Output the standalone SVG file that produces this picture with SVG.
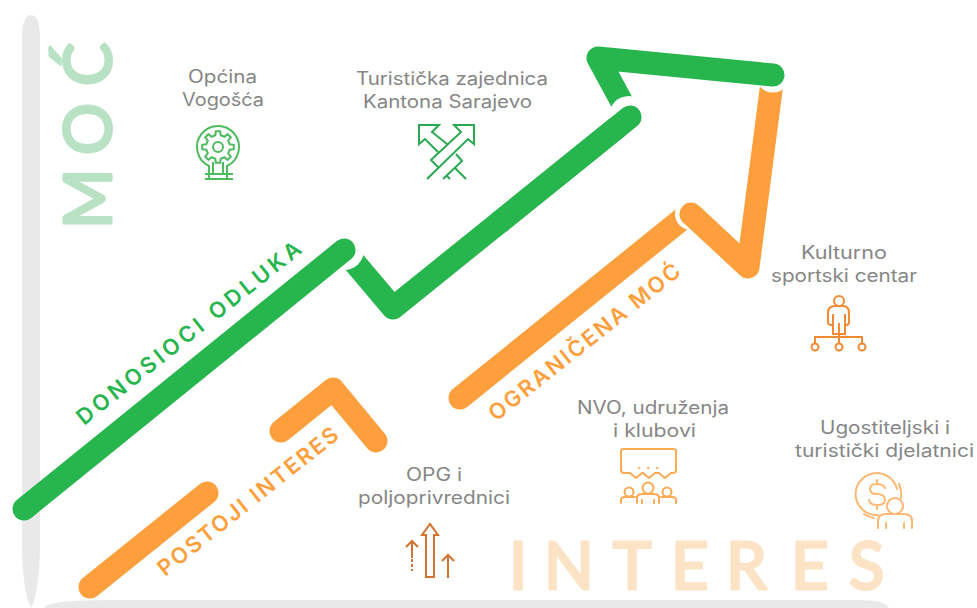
<svg xmlns="http://www.w3.org/2000/svg" width="977" height="608" viewBox="0 0 977 608">
<style>
text{font-family:Inter,"Liberation Sans",sans-serif}
.lab{font-size:18px;fill:#868686;font-weight:400}
.big{font-family:Lato,"Liberation Sans",sans-serif;font-size:65px;stroke-width:3;stroke-linejoin:round}
.gl{fill:none;stroke:#27b54e;stroke-width:23;stroke-linecap:round;stroke-linejoin:round}
.ol{fill:none;stroke:#fd9f3d;stroke-width:23;stroke-linecap:round;stroke-linejoin:round}
.tg{font-size:22px;font-weight:600;fill:#27b54e}
.to{font-size:22px;font-weight:600;fill:#fd9f3d}
.ig{fill:none;stroke:#4dbb5f;stroke-width:2}
.it{fill:none;stroke:#2aa852;stroke-width:2}
.io{fill:none;stroke:#f08a35;stroke-width:2}
.ip{fill:none;stroke:#fdaa55;stroke-width:2;stroke-linecap:round}
.iq{fill:none;stroke:#fdb873;stroke-width:2;stroke-linecap:round}
.iu{fill:none;stroke:#d0742f;stroke-width:2}
</style>
<g id="axes">
<path d="M22 40Q22 15 31 15Q40 15 40 40V540Q40 590 31 608Q22 590 22 540Z" fill="#e9e9e9"/>
<path d="M44 608Q46 600 110 600H860Q886 600 889 608Z" fill="#e9e9e9"/>
<text class="big" transform="translate(110.500 225) rotate(-90)" x="-4 70 139" y="0" fill="#b9e2c5" stroke="#b9e2c5">MOĆ</text>
<text class="big" x="509 544 613 671 726 791 849" y="589" fill="#fde3c6" stroke="#fde3c6">INTERES</text>
</g>
<g id="connectors">
<path class="ol" d="M460 398L692 211"/>
<circle cx="691" cy="214" r="16" fill="#fff"/>
<path class="ol" d="M773 75L748 267L691 214"/>
<circle cx="773" cy="75" r="17.500" fill="#fff"/>
<path class="gl" d="M344 250L393 308L630 117"/>
<circle cx="344" cy="250" r="20" fill="#fff"/>
<path class="gl" d="M24 509L344 250"/>
<path class="gl" d="M630 117L598 58L773 75"/>
<circle cx="629" cy="116" r="20" fill="#fff"/>
<path class="gl" d="M630 117L500 222"/>
<path class="ol" d="M90 587L207 493"/>
<path class="ol" d="M281 431L333 389L376 441"/>
</g>
<g id="label-donosioci"><text class="tg" transform="translate(84 426) rotate(-38.500)" textLength="280">DONOSIOCI ODLUKA</text></g>
<g id="label-postoji"><text class="to" transform="translate(165 577) rotate(-38.500)" textLength="224">POSTOJI INTERES</text></g>
<g id="label-ogranicena"><text class="to" transform="translate(496 422) rotate(-38.500)" textLength="238">OGRANIČENA MOĆ</text></g>
<g id="node-opcina">
<text class="lab" x="188" y="83" textLength="69" lengthAdjust="spacingAndGlyphs">Općina</text>
<text class="lab" x="182" y="106" textLength="82" lengthAdjust="spacingAndGlyphs">Vogošća</text>
<path class="ig" d="M209 166A21 21 0 1 1 227 166V179H209ZM205 174H233M205 179H233M213 162V174M223 162V174"/>
<path class="ig" d="M215.300 135.300L215.800 131.200H220.200L220.700 135.300L224.400 136.800L227.600 134.200L230.800 137.400L228.200 140.600L229.700 144.300L233.800 144.800V149.200L229.700 149.700L228.200 153.400L230.800 156.600L227.600 159.800L224.400 157.200L220.700 158.700L220.200 162.800H215.800L215.300 158.700L211.600 157.200L208.400 159.800L205.200 156.600L207.800 153.400L206.300 149.700L202.200 149.200V144.800L206.300 144.300L207.800 140.600L205.200 137.400L208.400 134.200L211.600 136.800Z"/>
<circle class="ig" cx="218" cy="147" r="5"/>
</g>
<g id="node-turisticka">
<text class="lab" x="356" y="85" textLength="192" lengthAdjust="spacingAndGlyphs">Turistička zajednica</text>
<text class="lab" x="363" y="108" textLength="169" lengthAdjust="spacingAndGlyphs">Kantona Sarajevo</text>
<path class="it" d="M447 144L432 132L439 125H419V144L425 139L438 152M438 167L431 160L461 132L454 125H474V144L468 139L427 179M456 154L462 161L443 179M455 168L466 179M447 176L450 179"/>
</g>
<g id="node-kulturno">
<text class="lab" x="801" y="259" textLength="86" lengthAdjust="spacingAndGlyphs">Kulturno</text>
<text class="lab" x="771" y="282" textLength="146" lengthAdjust="spacingAndGlyphs">sportski centar</text>
<circle class="io" cx="839" cy="301" r="5"/>
<path class="io" d="M835 306H843Q849 306 849 313V322Q849 325 846 325H845V334H833V325H832Q828 325 828 322V313Q828 306 835 306ZM839 323V334M833 314V325M845 314V325"/>
<path class="io" d="M815 343V337H862V343M839 334V343"/>
<circle class="io" cx="815" cy="347" r="3.500"/>
<circle class="io" cx="839" cy="347" r="3.500"/>
<circle class="io" cx="862" cy="347" r="3.500"/>
</g>
<g id="node-nvo">
<text class="lab" x="577" y="414" textLength="152" lengthAdjust="spacingAndGlyphs">NVO, udruženja</text>
<text class="lab" x="613" y="437" textLength="83" lengthAdjust="spacingAndGlyphs">i klubovi</text>
<path class="ip" d="M621 451Q621 449 624 449H673Q676 449 676 451V470Q676 473 673 473H671L665 478L659 473H655L649 478L643 473H642L636 478L630 473H624Q621 473 621 470ZM639 468h.5M648 468h.5M657 468h.5"/>
<circle class="ip" cx="629" cy="492" r="4.500"/>
<circle class="ip" cx="648" cy="488" r="5.500"/>
<circle class="ip" cx="667" cy="492" r="4.500"/>
<path class="ip" d="M621 503V500Q621 497 625 497H635M637 503V498Q637 494 642 494H654Q659 494 659 498V503M661 497H672Q676 497 676 500V503M642 500V503M654 500V503"/>
</g>
<g id="node-ugost">
<text class="lab" x="820" y="434" textLength="130" lengthAdjust="spacingAndGlyphs">Ugostiteljski i</text>
<text class="lab" x="795" y="457" textLength="179" lengthAdjust="spacingAndGlyphs">turistički djelatnici</text>
<path class="iq" d="M897 489A21 21 0 1 0 878 515M899 484Q902 491 901 498M864 514Q868 517 874 518"/>
<path class="iq" d="M885 488Q883 484 877 484Q870 484 870 489Q870 494 877 494Q885 494 885 500Q885 505 877 505Q870 505 869 500M877 480V484M877 505V509"/>
<circle class="iq" cx="895" cy="506" r="8"/>
<path class="iq" d="M878 528V521Q878 514 886 514H904Q912 514 912 521V528M886 523V528M904 523V528"/>
</g>
<g id="node-opg">
<text class="lab" x="406" y="481" textLength="56" lengthAdjust="spacingAndGlyphs">OPG i</text>
<text class="lab" x="358" y="504" textLength="152" lengthAdjust="spacingAndGlyphs">poljoprivrednici</text>
<path class="iu" d="M426 577V535H422L430 524L438 535H434V577Z"/>
<path class="iu" d="M406 547L412 541L418 547M412 541V558"/>
<path class="iu" d="M412 559V571" stroke-dasharray="3 2"/>
<path class="iu" d="M442 561L448 555L454 561M448 555V578"/>
</g>
</svg>
